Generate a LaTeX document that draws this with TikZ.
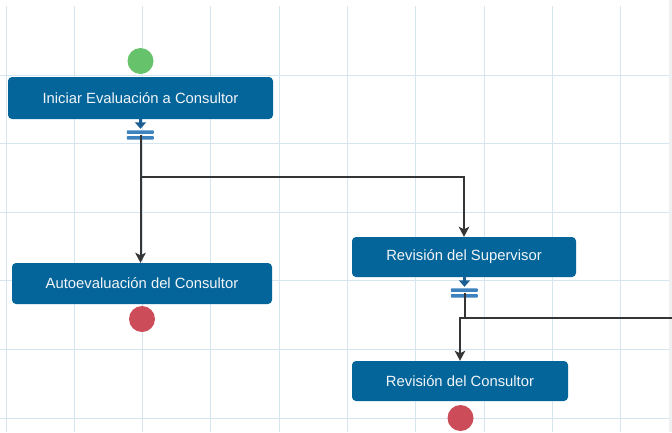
\documentclass[tikz,border=0pt]{standalone}
\usepackage{fontspec}
\setmainfont{Liberation Sans}
\usetikzlibrary{arrows.meta,calc}
\definecolor{boxblue}{HTML}{04659A}
\definecolor{gridblue}{HTML}{D6E6F0}
\definecolor{forkblue}{HTML}{3B82BF}
\definecolor{darkarrow}{HTML}{1B5E93}
\definecolor{startgreen}{HTML}{66C36B}
\definecolor{endred}{HTML}{CD4C5A}
\definecolor{connc}{HTML}{353535}
\definecolor{textw}{HTML}{F2F5F8}
\begin{document}
\begin{tikzpicture}[x=1pt,y=-1pt,
 activity/.style={rectangle, rounded corners=4pt, fill=boxblue, text=textw, font=\fontsize{14.8}{16}\selectfont, inner sep=0pt},
 startnode/.style={circle, fill=startgreen, minimum size=26pt, inner sep=0pt},
 endnode/.style={circle, fill=endred, minimum size=26pt, inner sep=0pt},
 forknode/.style={rectangle, minimum width=27pt, minimum height=9pt, inner sep=0pt},
 forkbar/.style={fill=forkblue, rounded corners=0.8pt},
 conn/.style={draw=connc, line width=2pt},
 arr/.style={-{Stealth[length=10pt,width=10.5pt,inset=2.5pt]}},
 smallarr/.style={draw=darkarrow, line width=3pt, -{Triangle[length=6.5pt,width=11pt]}, shorten >=1.5pt},
 gridline/.style={draw=gridblue, line width=1pt}
]
\useasboundingbox (0,0) rectangle (672,432);
\clip (0,0) rectangle (672,432);
\fill[white] (0,0) rectangle (672,432);
% grid
\foreach \i in {0,...,9} \draw[gridline] ({6+68.3*\i},6) -- ({6+68.3*\i},432);
\foreach \j in {0,...,5} \draw[gridline] (0,{75+68.6*\j}) -- (672,{75+68.6*\j});
\fill[black!6] (669,0) rectangle (672,432);

% nodes
\node[startnode] (s) at (140.5,61) {};
\node[activity, minimum width=265pt, minimum height=42pt] (b1) at (140.5,98) {Iniciar Evaluación a Consultor};
\node[forknode] (f1) at (140.5,135) {};
\fill[forkbar] (f1.north west) rectangle ++(27,3.6);
\fill[forkbar] (f1.south west) rectangle ++(27,-3.6);

\node[activity, minimum width=260pt, minimum height=41pt] (b2) at (142,283.5) {Autoevaluación del Consultor};
\node[endnode] (e1) at (142,319) {};

\node[activity, minimum width=224pt, minimum height=40pt] (b3) at (464,257) {Revisión del Supervisor};
\node[forknode] (f2) at (464.5,293) {};
\fill[forkbar] (f2.north west) rectangle ++(27,3.6);
\fill[forkbar] (f2.south west) rectangle ++(27,-3.6);

\node[activity, minimum width=216pt, minimum height=40pt] (b4) at (460,381) {Revisión del Consultor};
\node[endnode] (e2) at (460.5,418) {};

% connectors
\coordinate (j1) at (140.5,177);
\coordinate (j2) at (464.5,318);
\coordinate (out) at (676,318);

\draw[smallarr] (b1.south) -- (f1.north);
\draw[conn] (f1.center) -- (j1);
\draw[conn,arr] (j1) -- (j1 |- b2.north);
\draw[conn,arr] (j1) -| (b3.north);

\draw[smallarr] (b3.south -| f2.north) -- (f2.north);
\draw[conn] (f2.center) -- (j2);
\draw[conn] (j2) -- (out);
\draw[conn,arr] (j2) -- (j2 -| b4.north) -- (b4.north);
\end{tikzpicture}
\end{document}
